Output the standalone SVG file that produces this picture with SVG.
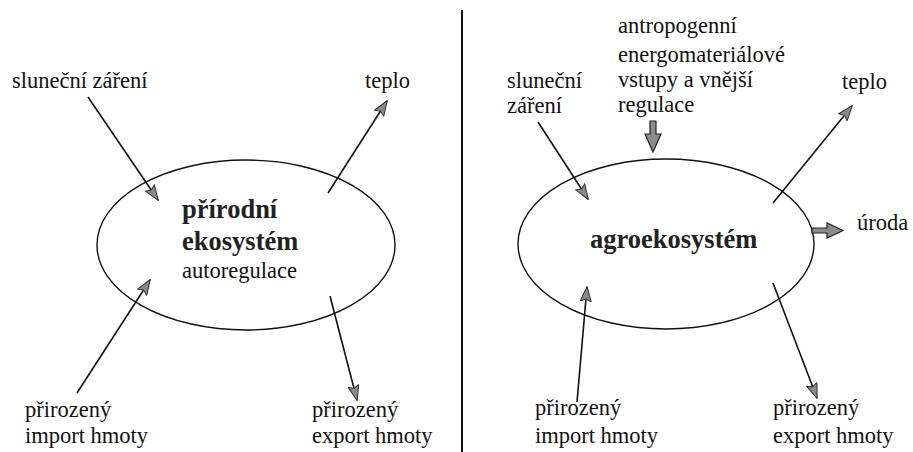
<svg xmlns="http://www.w3.org/2000/svg" width="913" height="452" viewBox="0 0 913 452">
<style>
text{font-family:'Liberation Serif','DejaVu Serif',serif;font-size:22.5px;fill:#111}
.b{font-weight:bold;font-size:26.5px;fill:#222}
.eco{fill:none;stroke:#111;stroke-width:1.4}
.ln{stroke:#111;stroke-width:1.6;fill:none;marker-end:url(#ah)}
.blk{fill:#8c8c8c;stroke:#222;stroke-width:1.2;stroke-linejoin:miter}
</style>
<defs>
<marker id="ah" viewBox="0 0 16 12" refX="15" refY="6" markerUnits="userSpaceOnUse" markerWidth="16" markerHeight="12" orient="auto">
<path d="M0.5,0.5 L15.5,6 L0.5,11.5 L3,6 Z" fill="#8a8a8a" stroke="#333" stroke-width="1"/>
</marker>
</defs>
<rect width="913" height="452" fill="#fff"/>
<line x1="462" y1="10" x2="462" y2="452" stroke="#111" stroke-width="2"/>
<g id="node-prirodni" font-family="Liberation Serif, serif">
<ellipse class="eco" cx="246" cy="245" rx="149" ry="85"/>
<text class="b" x="182" y="218">přírodní</text>
<text class="b" x="182" y="250">ekosystém</text>
<text x="182" y="278">autoregulace</text>
</g>
<g id="node-agro" font-family="Liberation Serif, serif">
<ellipse class="eco" cx="666" cy="244" rx="148" ry="85"/>
<text class="b" x="590" y="248">agroekosystém</text>
</g>
<g id="labels-left" font-family="Liberation Serif, serif">
<text x="12" y="88">sluneční záření</text>
<text x="365" y="88">teplo</text>
<text x="25" y="417">přirozený</text>
<text x="25" y="443">import hmoty</text>
<text x="312" y="417">přirozený</text>
<text x="312" y="443">export hmoty</text>
</g>
<g id="labels-right" font-family="Liberation Serif, serif">
<text x="507" y="88">sluneční</text>
<text x="507" y="113">záření</text>
<text x="618" y="33">antropogenní</text>
<text x="618" y="62">energomateriálové</text>
<text x="618" y="87">vstupy a vnější</text>
<text x="618" y="112">regulace</text>
<text x="842" y="89">teplo</text>
<text x="857" y="230">úroda</text>
<text x="535" y="415">přirozený</text>
<text x="535" y="443">import hmoty</text>
<text x="773" y="415">přirozený</text>
<text x="773" y="443">export hmoty</text>
</g>
<g id="connectors">
<line class="ln" x1="88" y1="97" x2="158" y2="200"/>
<line class="ln" x1="328" y1="193" x2="387" y2="101"/>
<line class="ln" x1="77" y1="393" x2="150" y2="280"/>
<line class="ln" x1="330" y1="296" x2="357" y2="400"/>
<line class="ln" x1="538" y1="122" x2="588" y2="199"/>
<line class="ln" x1="773" y1="203" x2="852" y2="106"/>
<line class="ln" x1="577" y1="402" x2="587" y2="287"/>
<line class="ln" x1="773" y1="283" x2="817" y2="398"/>
<path class="blk" d="M650,121 L656,121 L656,134 L661,134 L653,152 L645,134 L650,134 Z"/>
<path class="blk" d="M812,228 L827,228 L827,223 L843,230.5 L827,238 L827,233 L812,233 Z"/>
</g>
</svg>
